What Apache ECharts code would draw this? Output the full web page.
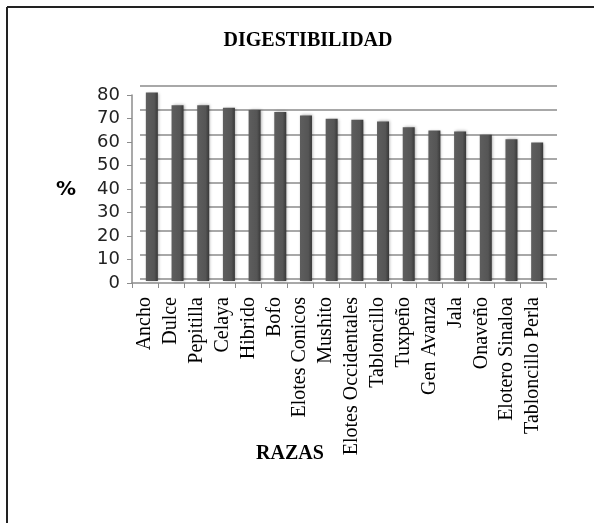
<!DOCTYPE html>
<html>
<head>
<meta charset="utf-8">
<script src="https://cdn.jsdelivr.net/npm/echarts@6/dist/echarts.min.js"></script>
<style>
html, body { margin: 0; padding: 0; background: #fff; }
#chart { width: 594px; height: 523px; }
</style>
</head>
<body>
<div id="chart"></div>
<script>
// razas y digestibilidad (%)
const razas = ['Ancho', 'Dulce', 'Pepitilla', 'Celaya', 'Hibrido', 'Bofo', 'Elotes Conicos', 'Mushito',
    'Elotes Occidentales', 'Tabloncillo', 'Tuxpeño', 'Gen Avanza', 'Jala', 'Onaveño', 'Elotero Sinaloa', 'Tabloncillo Perla'];
const digestibilidad = [78.5, 73.2, 73.2, 72.2, 71.2, 70.4, 69.0, 67.6, 67.2, 66.5, 64.1, 62.7, 62.3, 60.9, 59.1, 57.7];
const yTicks = [0, 80, 10]; // min, max, intervalo

const myChart = echarts.init(document.getElementById('chart'));

const axisGray = '#8c8c8c';

const option = {
    animation: false,
    backgroundColor: '#fff',
    title: {
        text: 'DIGESTIBILIDAD',
        left: 303,
        textAlign: 'center',
        top: 26,
        textStyle: { fontFamily: 'Liberation Serif', fontWeight: 'bold', fontSize: 20, color: '#000' }
    },
    grid: [
        // pared del fondo
        { left: 140, right: 37, top: 86, bottom: 244 },
        // barras
        { left: 139, right: 44, top: 89, bottom: 242 },
        // ejes del frente
        { left: 132, right: 48, top: 95, bottom: 240 }
    ],
    xAxis: [
        { gridIndex: 0, type: 'category', data: razas, show: false },
        { gridIndex: 1, type: 'category', data: razas, show: false },
        {
            gridIndex: 2, type: 'category', data: razas,
            axisLine: { lineStyle: { color: axisGray, width: 1.5 } },
            axisTick: { show: true, length: 5, lineStyle: { color: axisGray } },
            axisLabel: {
                rotate: 90, interval: 0, margin: 14,
                fontFamily: 'Liberation Serif', fontSize: 20, color: '#000'
            }
        }
    ],
    yAxis: [
        {
            gridIndex: 0, type: 'value', min: yTicks[0], max: yTicks[1], interval: yTicks[2],
            axisLabel: { show: false }, axisLine: { show: false }, axisTick: { show: false },
            splitLine: { show: true, lineStyle: { color: '#a8a8a8', width: 2 } }
        },
        {
            gridIndex: 1, type: 'value', min: yTicks[0], max: yTicks[1], show: false,
            splitLine: { show: false }
        },
        {
            gridIndex: 2, type: 'value', min: yTicks[0], max: yTicks[1], interval: yTicks[2],
            axisLine: { show: true, lineStyle: { color: axisGray, width: 1.5 } },
            axisTick: { show: true, length: 5, lineStyle: { color: axisGray } },
            axisLabel: { fontFamily: 'DejaVu Sans', fontSize: 18, color: '#222', margin: 12 },
            splitLine: { show: false }
        }
    ],
    graphic: [
        { type: 'line', shape: { x1: 7, y1: 7, x2: 600, y2: 7 }, style: { stroke: '#222', lineWidth: 2 } },
        { type: 'line', shape: { x1: 7, y1: 7, x2: 7, y2: 530 }, style: { stroke: '#222', lineWidth: 2 } },
        {
            type: 'text', x: 66, y: 190,
            style: {
                text: '%', align: 'center', verticalAlign: 'middle',
                fontFamily: 'DejaVu Sans', fontWeight: 'bold', fontSize: 20, fill: '#000'
            }
        },
        {
            type: 'text', x: 290, y: 454,
            style: {
                text: 'RAZAS', align: 'center', verticalAlign: 'middle',
                fontFamily: 'Liberation Serif', fontWeight: 'bold', fontSize: 20, fill: '#000'
            }
        }
    ],
    series: [
        {
            type: 'bar',
            xAxisIndex: 1,
            yAxisIndex: 1,
            data: digestibilidad,
            barWidth: 12,
            itemStyle: {
                color: new echarts.graphic.LinearGradient(0, 0, 1, 0, [
                    { offset: 0, color: '#5e5e5e' },
                    { offset: 0.7, color: '#555555' },
                    { offset: 1, color: '#383838' }
                ]),
                shadowBlur: 3,
                shadowColor: 'rgba(0,0,0,0.35)',
                shadowOffsetX: 1
            }
        }
    ]
};
myChart.setOption(option);
window.addEventListener('resize', () => {
    myChart.resize();
});
</script>
</body>
</html>
